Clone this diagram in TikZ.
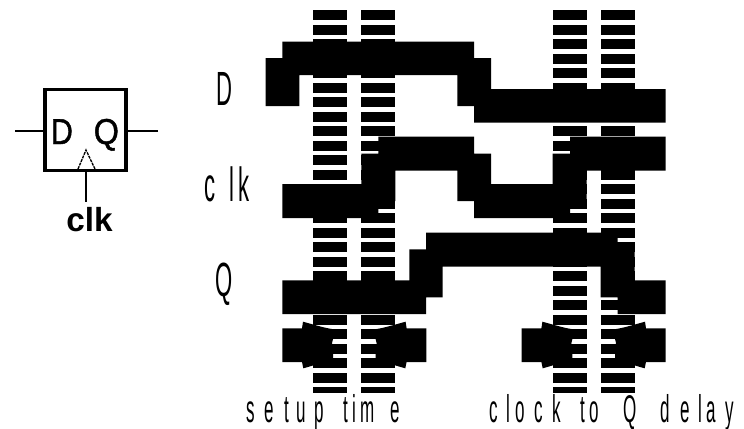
\documentclass[tikz,border=0pt]{standalone}
\usepackage{fontspec}
\setmainfont{Liberation Sans}
\newfontfamily\ffont[FakeBold=1.2]{Liberation Sans}
\newcommand\gp[1]{\kern\dimexpr #1pt*163/100\relax}
\newcommand\narrowtxt[1]{\scalebox{.44}[1]{\fontsize{29}{32}\selectfont #1}}
\newcommand\sigtxt[1]{\scalebox{.46}[1]{\fontsize{36}{40}\selectfont #1}}
\tikzset{
  lbl/.style={inner sep=0pt,anchor=base west},
  wave/.style={fill=black,draw=none},
  ffwire/.style={line width=1.3pt},
}
\begin{document}
\begin{tikzpicture}[x=0.75pt,y=-0.75pt]
\useasboundingbox (0,0) rectangle (744,429);
% dashed guide columns
\foreach \cx in {313.3,361.3,552.7,600.7}{
  \foreach \k in {0,...,25}{
    \fill (\cx,{10+14.5*\k}) rectangle ++(34,10);
  }
  \fill (\cx,387) rectangle ++(34,6);
}
% D
\fill[wave] (265.7,106)--(265.7,58)--(282.3,58)--(282.3,41.7)--(474,41.7)--(474,58)--(491,58)--(491,89)--(665.7,89)--(665.7,122.7)--(474,122.7)--(474,106)--(457.3,106)--(457.3,75)--(299.3,75)--(299.3,106)--cycle;
% clk
\fill[wave] (282.3,184)--(361.3,184)--(361.3,153.7)--(378.3,153.7)--(378.3,136.7)--(474,136.7)--(474,153.7)--(491,153.7)--(491,184)--(552.7,184)--(552.7,153.7)--(570,153.7)--(570,136.7)--(665.7,136.7)--(665.7,170.7)--(586.7,170.7)--(586.7,201)--(570,201)--(570,218)--(474,218)--(474,201)--(457.3,201)--(457.3,170.7)--(395.3,170.7)--(395.3,201)--(378.3,201)--(378.3,218)--(282.3,218)--cycle;
% Q
\fill[wave] (282.3,280.3)--(409.3,280.3)--(409.3,249.3)--(426,249.3)--(426,232.7)--(617.7,232.7)--(617.7,249.3)--(634.7,249.3)--(634.7,280.3)--(665.7,280.3)--(665.7,314)--(617.7,314)--(617.7,297.3)--(600.7,297.3)--(600.7,266.7)--(442.7,266.7)--(442.7,297.3)--(426,297.3)--(426,314)--(282.3,314)--cycle;
% block arrows
\foreach \dx in {0,239.4}{
  \begin{scope}[xshift=\dx*0.75pt]
  \fill[wave] (282.3,328.3)--(302,328.3)--(303,321.7) .. controls (315,325) and (325,328) .. (332,329)--(333,339)--(332,343)--(333,353)--(333,358)--(328,361.5) .. controls (320,363) and (312,366) .. (303.3,368.3)--(302,362)--(282.3,362)--cycle;
  \fill[wave] (426.3,328.3)--(406.6,328.3)--(405.6,321.7) .. controls (393.6,325) and (383.6,328) .. (376.6,329)--(375.6,339)--(376.6,343)--(375.6,353)--(375.6,358)--(380.6,361.5) .. controls (388.6,363) and (396.6,366) .. (405.3,368.3)--(406.6,362)--(426.3,362)--cycle;
  \end{scope}
}
% signal labels
\node[lbl] (lD) at (216,105) {\sigtxt{D}};
\node[lbl] (lclk) at (204.5,201.5) {\sigtxt{c\gp{14}l\gp{4}k}};
\node[lbl] (lQ) at (215.5,296) {\sigtxt{Q}};
% bottom labels
\node[lbl] (setup) at (246.5,422) {\narrowtxt{s\gp{9.6}e\gp{10.6}t\gp{8.3}u\gp{8.6}p \gp{16}t\gp{4.3}i\gp{4.3}m\gp{16}e}};
\node[lbl] (ctoq) at (489.5,422) {\narrowtxt{c\gp{8.6}l\gp{5.3}o\gp{10.6}c\gp{9.6}k \gp{15}t\gp{5.3}o \gp{20}Q\gp{25}d\gp{11.6}e\gp{8.6}l\gp{4.3}a\gp{9.6}y}};
% flip-flop symbol
\node[draw,line width=2.7pt,minimum width=61pt,minimum height=60.5pt,inner sep=0pt] (ff) at (85.5,130) {};
\coordinate (dIn) at (15,131);
\coordinate (qOut) at (158,131);
\coordinate (ckIn) at (86.3,201.7);
\coordinate (triL) at (78,169);
\coordinate (triT) at (86,150);
\coordinate (triR) at (95,169);
\draw[ffwire] (dIn) -- (dIn -| ff.west);
\draw[ffwire] (qOut) -- (qOut -| ff.east);
\draw[ffwire] (ff.south -| ckIn) -- (ckIn);
\draw[line width=1pt,dash pattern=on 2.2pt off .7pt] (triL) -- (triT) -- (triR);
\node[lbl] (tD) at (50.5,144) {\scalebox{.85}[1]{\fontsize{27}{30}\selectfont\ffont D}};
\node[lbl] (tQ) at (93.5,144) {\scalebox{.9}[1]{\fontsize{27}{30}\selectfont\ffont Q}};
\node[lbl] (tclk) at (66,231) {\fontsize{25}{28}\selectfont\bfseries clk};
\end{tikzpicture}
\end{document}
